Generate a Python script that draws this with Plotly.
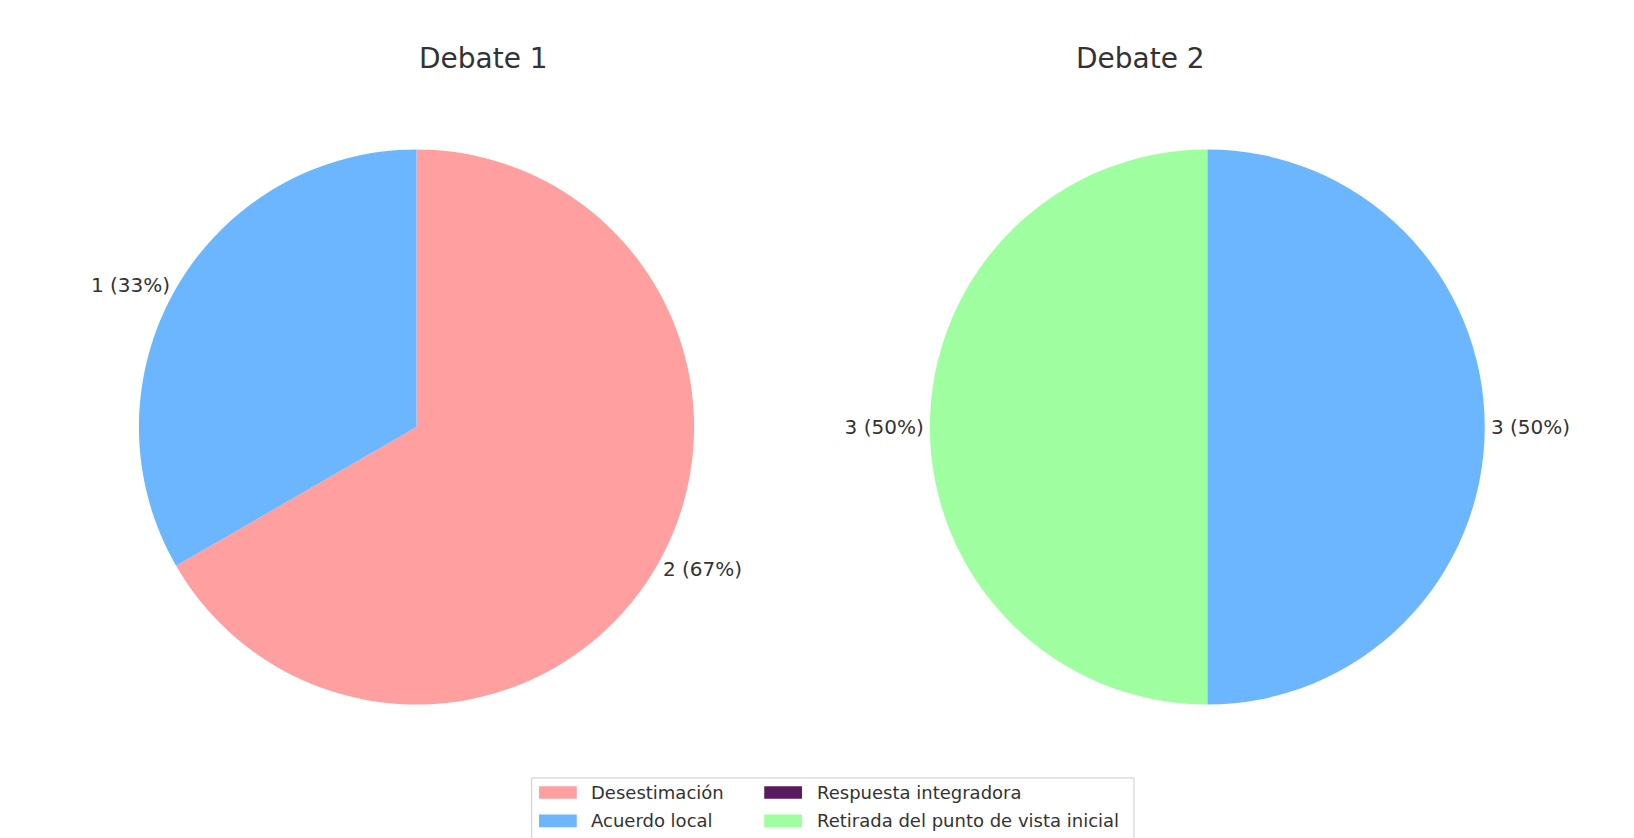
import plotly.graph_objects as go

W, H = 1634, 838
DW, DH = 1560, 800  # displayed reference dimensions used for reading positions
categories = ["Desestimación", "Acuerdo local", "Respuesta integradora", "Retirada del punto de vista inicial"]
colors = ["#ff9f9f", "#6cb6ff", "#5a1a5e", "#9fffa0"]
debate1 = [2, 1, 0, 0]
debate2 = [0, 3, 0, 3]
titles = ["Debate 1", "Debate 2"]

def px(x): return x / DW
def py(y): return 1 - y / DH

fig = go.Figure()
for vals, dom in [(debate1, [px(125), px(655)]), (debate2, [px(880), px(1410)])]:
    tot = sum(vals)
    labs = [c for c, v in zip(categories, vals) if v > 0]
    vv = [v for v in vals if v > 0]
    cc = [col for col, v in zip(colors, vals) if v > 0]
    txt = [f"{v} ({round(100*v/tot)}%)" for v in vv]
    fig.add_trace(go.Pie(labels=labs, values=vv, text=txt, textinfo="text",
                         textposition="outside", marker=dict(colors=cc, line=dict(width=0)),
                         sort=False, direction="clockwise", rotation=0,
                         domain=dict(x=dom, y=[py(665), py(135)]), showlegend=False,
                         textfont=dict(size=20, color="#333"), hole=0))

for t, x in zip(titles, [390, 1145]):
    fig.add_annotation(x=px(x), y=py(48), text=t, showarrow=False, xref="paper", yref="paper",
                       yanchor="middle", font=dict(size=28, color="#333"))

# legend
fig.add_shape(type="rect", xref="paper", yref="paper", x0=px(500), x1=px(1075), y0=py(793), y1=py(735),
              line=dict(color="#ccc", width=1), fillcolor="white")
pos = [(507, 749), (507, 776), (722, 749), (722, 776)]
for (x, y), c, col in zip(pos, categories, colors):
    fig.add_shape(type="rect", xref="paper", yref="paper", x0=px(x), x1=px(x+36), y0=py(y+6), y1=py(y-6),
                  line=dict(width=0), fillcolor=col)
    fig.add_annotation(x=px(x+48), y=py(y), text=c, showarrow=False, xanchor="left", yanchor="middle",
                       xref="paper", yref="paper", font=dict(size=18, color="#333"))

fig.update_layout(width=W, height=H, margin=dict(l=0, r=0, t=0, b=0), paper_bgcolor="white",
                  font=dict(family="DejaVu Sans", color="#333"))
fig.write_html("out.html")
